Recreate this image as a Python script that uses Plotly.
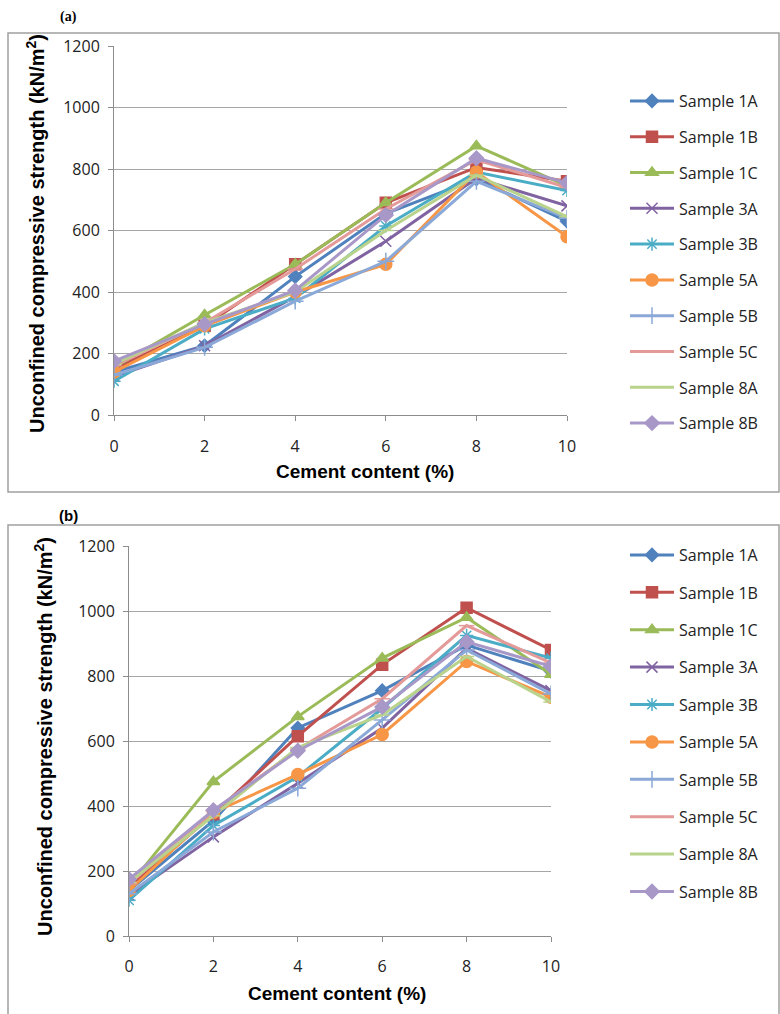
import plotly.graph_objects as go

W, H = 780, 1014

cement = [0, 2, 4, 6, 8, 10]
samples = ["Sample 1A", "Sample 1B", "Sample 1C", "Sample 3A", "Sample 3B",
           "Sample 5A", "Sample 5B", "Sample 5C", "Sample 8A", "Sample 8B"]

ucs_a = {
    "Sample 1A": [140, 225, 450, 655, 768, 630],
    "Sample 1B": [150, 290, 490, 690, 805, 760],
    "Sample 1C": [155, 325, 490, 690, 875, 745],
    "Sample 3A": [125, 225, 385, 565, 770, 680],
    "Sample 3B": [110, 280, 380, 615, 790, 730],
    "Sample 5A": [140, 290, 400, 490, 790, 580],
    "Sample 5B": [130, 220, 370, 500, 760, 640],
    "Sample 5C": [160, 300, 475, 670, 830, 740],
    "Sample 8A": [165, 300, 400, 600, 780, 645],
    "Sample 8B": [175, 295, 405, 650, 835, 755],
}
ucs_b = {
    "Sample 1A": [140, 355, 640, 755, 895, 815],
    "Sample 1B": [150, 375, 615, 835, 1010, 880],
    "Sample 1C": [155, 475, 675, 855, 980, 805],
    "Sample 3A": [125, 305, 470, 640, 885, 755],
    "Sample 3B": [110, 340, 490, 700, 925, 855],
    "Sample 5A": [140, 380, 497, 620, 845, 735],
    "Sample 5B": [130, 320, 455, 665, 880, 745],
    "Sample 5C": [160, 385, 575, 730, 955, 840],
    "Sample 8A": [165, 370, 580, 680, 860, 720],
    "Sample 8B": [175, 387, 570, 705, 905, 830],
}

colors = ["#4F81BD", "#C0504D", "#9BBB59", "#8064A2", "#4BACC6",
          "#F79646", "#8AA9D8", "#E39A99", "#B9D38C", "#A898C8"]
symbols = ["diamond", "square", "triangle-up", "x-thin-open", "asterisk-open",
           "circle", "cross-thin-open", "line-ew-open", "line-ew-open", "diamond"]
msizes = [10, 11, 11, 11, 11, 12, 12, 11, 11, 11]

def px(x):
    return x / W

def py(y):
    return 1 - y / H

fig = go.Figure()

for panel, data, xa, ya, leg in (("a", ucs_a, "x", "y", "legend"),
                                  ("b", ucs_b, "x2", "y2", "legend2")):
    for i, s in enumerate(samples):
        fig.add_trace(go.Scatter(
            x=cement, y=data[s], name=s, mode="lines+markers",
            xaxis=xa, yaxis=ya, legend=leg, legendgroup=panel + s,
            line=dict(color=colors[i], width=3),
            marker=dict(symbol=symbols[i], size=msizes[i], color=colors[i],
                        line=dict(color=colors[i], width=1.5)),
        ))

axis_common = dict(showline=True, linecolor="#8C8C8C", linewidth=1,
                   ticks="outside", ticklen=5, tickcolor="#8C8C8C",
                   tickfont=dict(family="Open Sans", size=16, color="#222222"),
                   zeroline=False, automargin=False)

legend_font = dict(family="Open Sans", size=16, color="#222222")

fig.update_layout(
    width=W, height=H, margin=dict(l=0, r=0, t=0, b=0, pad=0),
    autosize=False,
    paper_bgcolor="white", plot_bgcolor="white",
    showlegend=True,
    xaxis=dict(domain=[px(114), px(567)], range=[0, 10], anchor="y",
               tickvals=cement, showgrid=False, ticklabelstandoff=12, **axis_common),
    yaxis=dict(domain=[py(415), py(46)], range=[0, 1200], anchor="x",
               tickvals=[0, 200, 400, 600, 800, 1000, 1200], ticklabelstandoff=5,
               showgrid=True, gridcolor="#A6A6A6", gridwidth=1, **axis_common),
    xaxis2=dict(domain=[px(129), px(551)], range=[0, 10], anchor="y2",
                tickvals=cement, showgrid=False, ticklabelstandoff=11, **axis_common),
    yaxis2=dict(domain=[py(936), py(546)], range=[0, 1200], anchor="x2",
                tickvals=[0, 200, 400, 600, 800, 1000, 1200], ticklabelstandoff=5,
                showgrid=True, gridcolor="#A6A6A6", gridwidth=1, **axis_common),
    legend=dict(x=px(625), y=py(84), xanchor="left", yanchor="top",
                traceorder="grouped", tracegroupgap=12, itemwidth=44,
                font=legend_font, bgcolor="rgba(0,0,0,0)"),
    legend2=dict(x=px(625), y=py(538), xanchor="left", yanchor="top",
                 traceorder="grouped", tracegroupgap=13.6, itemwidth=44,
                 font=legend_font, bgcolor="rgba(0,0,0,0)"),
    shapes=[
        dict(type="rect", xref="paper", yref="paper",
             x0=px(8), y0=py(492), x1=px(779), y1=py(33),
             line=dict(color="#A0A0A0", width=1.5)),
        dict(type="rect", xref="paper", yref="paper",
             x0=px(8), y0=py(1016), x1=px(779), y1=py(525),
             line=dict(color="#A0A0A0", width=1.5)),
    ],
    annotations=[
        dict(text="<b>(a)</b>", x=px(68), y=py(17), xref="paper", yref="paper",
             showarrow=False, font=dict(family="Liberation Sans Narrow", size=14, color="black"),
             xanchor="center", yanchor="middle"),
        dict(text="<b>(b)</b>", x=px(68), y=py(515), xref="paper", yref="paper",
             showarrow=False, font=dict(family="Liberation Sans", size=15, color="black"),
             xanchor="center", yanchor="middle"),
        dict(text="<b>Unconfined compressive strength (kN/m<sup>2</sup>)</b>",
             x=px(35), y=py(234), xref="paper", yref="paper", textangle=-90,
             showarrow=False, font=dict(family="Liberation Sans", size=20, color="black"),
             xanchor="center", yanchor="middle"),
        dict(text="<b>Unconfined compressive strength (kN/m<sup>2</sup>)</b>",
             x=px(43), y=py(737), xref="paper", yref="paper", textangle=-90,
             showarrow=False, font=dict(family="Liberation Sans", size=20, color="black"),
             xanchor="center", yanchor="middle"),
        dict(text="<b>Cement content (%)</b>", x=px(365), y=py(472),
             xref="paper", yref="paper", showarrow=False,
             font=dict(family="Liberation Sans", size=19, color="black"),
             xanchor="center", yanchor="middle"),
        dict(text="<b>Cement content (%)</b>", x=px(337), y=py(993),
             xref="paper", yref="paper", showarrow=False,
             font=dict(family="Liberation Sans", size=19, color="black"),
             xanchor="center", yanchor="middle"),
    ],
)

fig.write_html(
    "out.html",
    post_script="document.body.style.margin='0';document.documentElement.style.overflow='hidden';",
)
